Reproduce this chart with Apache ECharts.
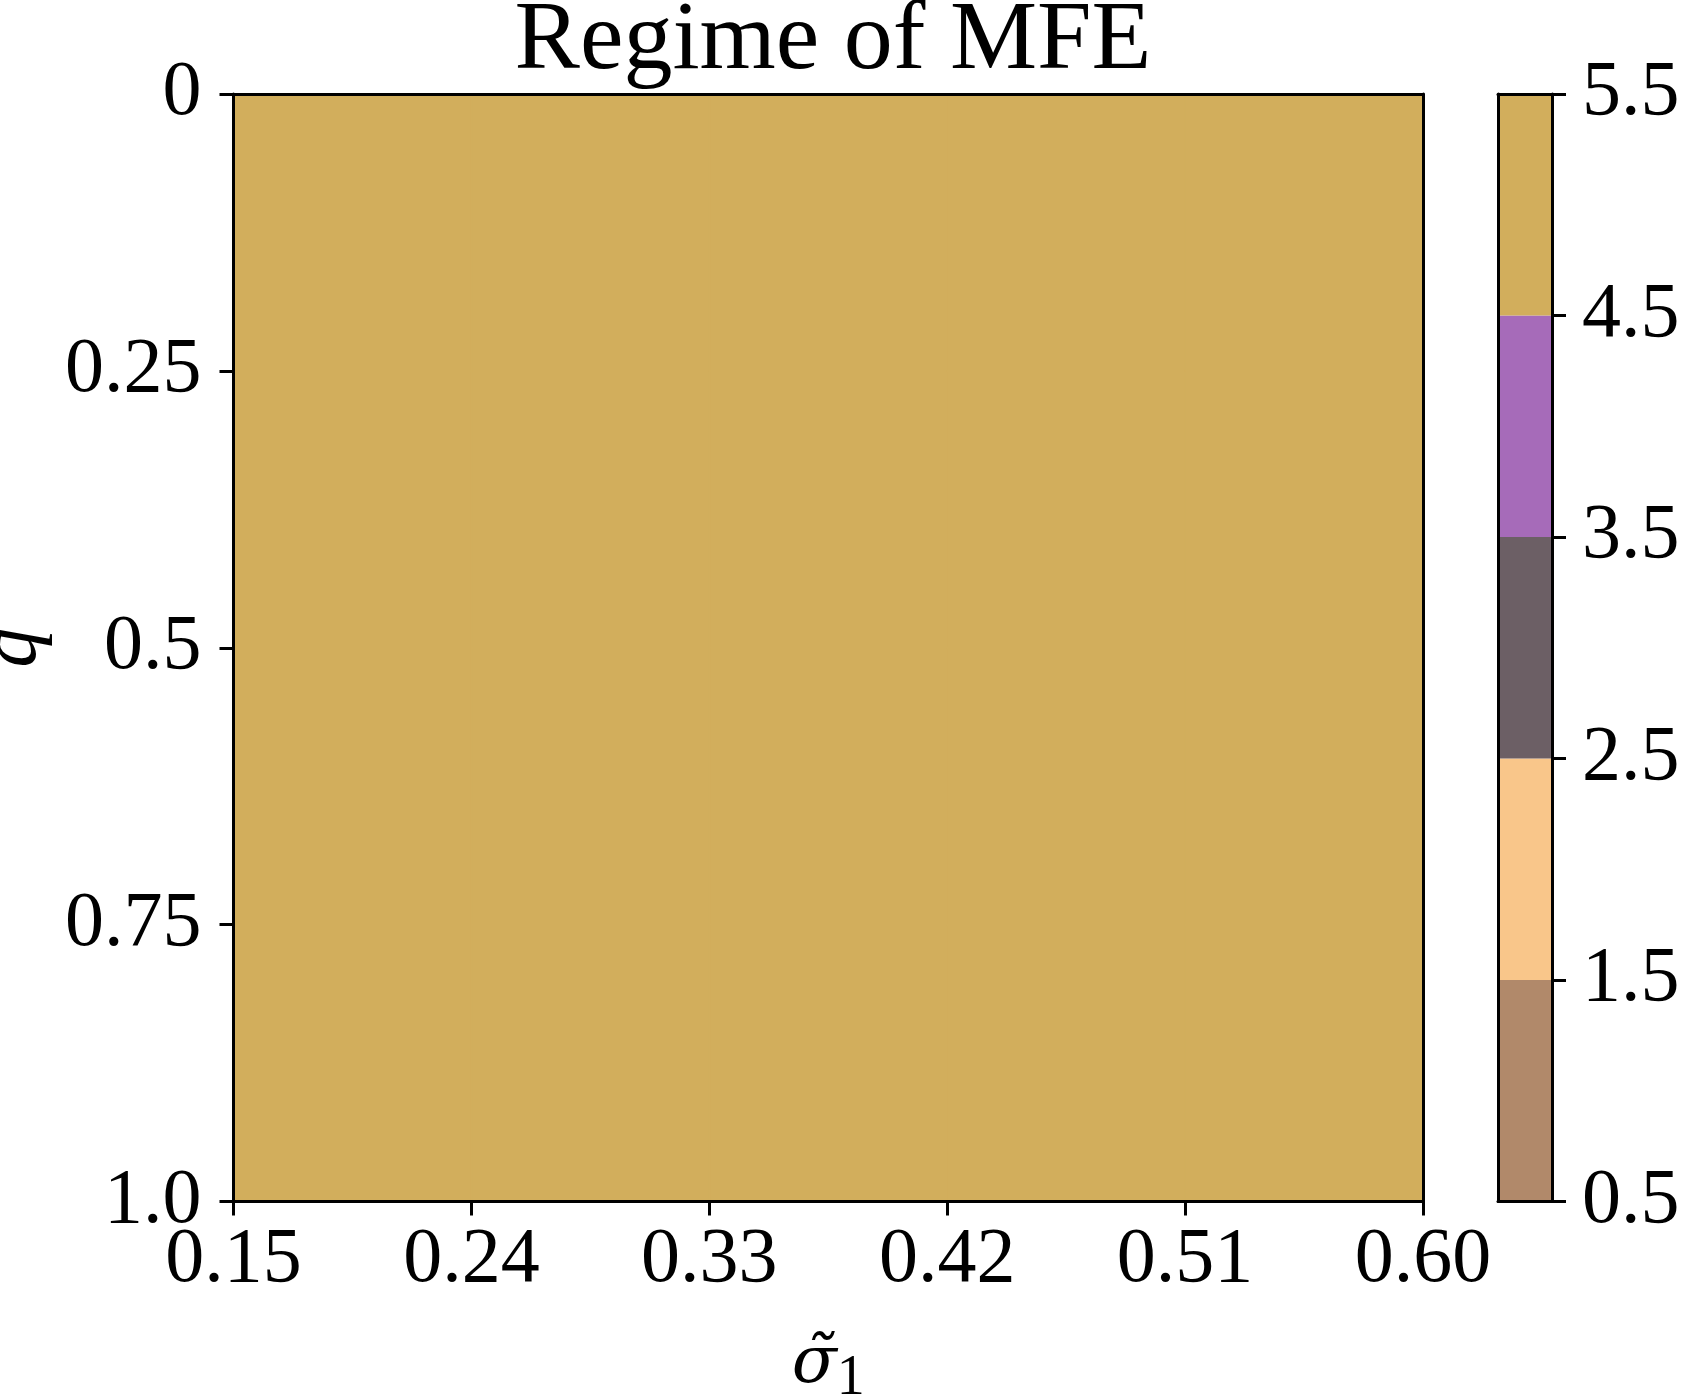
<!DOCTYPE html>
<html lang="en">
<head>
    <meta charset="UTF-8">
    <title>Regime of MFE</title>
    <script src="https://cdn.jsdelivr.net/npm/echarts@6/dist/echarts.min.js"></script>
    <style>
        html, body { margin: 0; padding: 0; background: #fff; }
        #chart { width: 1681px; height: 1396px; }
    </style>
</head>
<body>
<div id="chart"></div>
<script type="text/javascript">
    // grid edges of the regime map
    var sigmaEdges = [0.15, 0.24, 0.33, 0.42, 0.51, 0.60];
    var qEdges = [0, 0.25, 0.5, 0.75, 1.0];
    // regime per cell, rows follow qEdges, columns follow sigmaEdges
    var regime = [
        [5, 5, 5, 5, 5],
        [5, 5, 5, 5, 5],
        [5, 5, 5, 5, 5],
        [5, 5, 5, 5, 5]
    ];
    var xTicks = [0.15, 0.24, 0.33, 0.42, 0.51, 0.60];
    var yTicks = [0, 0.25, 0.5, 0.75, 1.0];
    var yTickLabels = ['0', '0.25', '0.5', '0.75', '1.0'];
    var levels = [1, 2, 3, 4, 5];
    var levelColors = ['#b1896a', '#f9c68a', '#6c5f65', '#a66bb9', '#d2ae5c'];

    var FONT = '"Liberation Serif", "DejaVu Serif", serif';

    var cells = [];
    for (var j = 0; j < regime.length; j++) {
        for (var i = 0; i < regime[j].length; i++) {
            cells.push([sigmaEdges[i], sigmaEdges[i + 1], qEdges[j], qEdges[j + 1], regime[j][i]]);
        }
    }
    var bands = levels.map(function (v) { return [v - 0.5, v + 0.5, v]; });

    function colorOf(v) { return levelColors[levels.indexOf(v)]; }

    var chart = echarts.init(document.getElementById('chart'));

    var frame = { show: true, onZero: false, lineStyle: { color: '#000', width: 3 } };
    var noTick = { show: false };
    var tick = { show: true, length: 14, lineStyle: { width: 3, color: '#000' } };

    var option = {
        animation: false,
        backgroundColor: '#fff',
        title: {
            text: 'Regime of MFE',
            left: 828, textAlign: 'center', top: -12,
            textStyle: { fontFamily: FONT, fontSize: 98, fontWeight: 'normal', color: '#000' }
        },
        grid: [
            { left: 233.5, top: 94, right: 258, bottom: 194.5, containLabel: false, outerBoundsMode: 'none' },
            { left: 1498, top: 94, right: 129, bottom: 194.5, containLabel: false, outerBoundsMode: 'none' }
        ],
        xAxis: [
            {
                gridIndex: 0, type: 'value', min: 0.15, max: 0.60, position: 'bottom', z: 10,
                axisLine: frame,
                axisTick: { show: true, length: 14, customValues: xTicks, lineStyle: { width: 3, color: '#000' } },
                axisLabel: {
                    customValues: xTicks, margin: 20,
                    formatter: function (v) { return v.toFixed(2); },
                    fontFamily: FONT, fontSize: 78, color: '#000'
                },
                splitLine: { show: false },
                name: '{s|σ̃}{sub|1}', nameLocation: 'middle', nameGap: 120,
                nameTextStyle: {
                    rich: {
                        s: { fontFamily: '"DejaVu Serif", serif', fontStyle: 'italic', fontSize: 66, color: '#000' },
                        sub: { fontFamily: FONT, fontSize: 56, color: '#000', verticalAlign: 'bottom', padding: [30, 0, 0, 0] }
                    }
                }
            },
            {
                gridIndex: 0, type: 'value', min: 0.15, max: 0.60, position: 'top', z: 10,
                axisLine: frame, axisTick: noTick, axisLabel: { show: false }, splitLine: { show: false }
            },
            {
                gridIndex: 1, type: 'value', min: 0, max: 1, position: 'bottom', z: 10,
                axisLine: frame, axisTick: noTick, axisLabel: { show: false }, splitLine: { show: false }
            },
            {
                gridIndex: 1, type: 'value', min: 0, max: 1, position: 'top', z: 10,
                axisLine: frame, axisTick: noTick, axisLabel: { show: false }, splitLine: { show: false }
            }
        ],
        yAxis: [
            {
                gridIndex: 0, type: 'value', min: 0, max: 1, interval: 0.25, inverse: true, position: 'left', z: 10,
                axisLine: frame,
                axisTick: tick,
                axisLabel: {
                    margin: 32,
                    formatter: function (v) { return yTickLabels[yTicks.indexOf(v)]; },
                    fontFamily: FONT, fontSize: 78, color: '#000'
                },
                splitLine: { show: false },
                name: 'q', nameLocation: 'middle', nameGap: 178, nameRotate: 90,
                nameTextStyle: { fontFamily: FONT, fontStyle: 'italic', fontSize: 80, color: '#000' }
            },
            {
                gridIndex: 0, type: 'value', min: 0, max: 1, inverse: true, position: 'right', z: 10,
                axisLine: frame, axisTick: noTick, axisLabel: { show: false }, splitLine: { show: false }
            },
            {
                gridIndex: 1, type: 'value', min: 0.5, max: 5.5, interval: 1, position: 'right', z: 10,
                axisLine: frame,
                axisTick: tick,
                axisLabel: {
                    margin: 30,
                    formatter: function (v) { return v.toFixed(1); },
                    fontFamily: FONT, fontSize: 78, color: '#000'
                },
                splitLine: { show: false }
            },
            {
                gridIndex: 1, type: 'value', min: 0.5, max: 5.5, position: 'left', z: 10,
                axisLine: frame, axisTick: noTick, axisLabel: { show: false }, splitLine: { show: false }
            }
        ],
        series: [
            {
                type: 'custom', xAxisIndex: 0, yAxisIndex: 0, z: 1,
                data: cells,
                renderItem: function (params, api) {
                    var p0 = api.coord([api.value(0), api.value(2)]);
                    var p1 = api.coord([api.value(1), api.value(3)]);
                    var c = colorOf(api.value(4));
                    return {
                        type: 'rect',
                        shape: {
                            x: Math.min(p0[0], p1[0]), y: Math.min(p0[1], p1[1]),
                            width: Math.abs(p1[0] - p0[0]), height: Math.abs(p1[1] - p0[1])
                        },
                        style: { fill: c, stroke: c, lineWidth: 1.5 }
                    };
                }
            },
            {
                type: 'custom', xAxisIndex: 2, yAxisIndex: 2, z: 1,
                data: bands,
                renderItem: function (params, api) {
                    var p0 = api.coord([0, api.value(0)]);
                    var p1 = api.coord([1, api.value(1)]);
                    return {
                        type: 'rect',
                        shape: {
                            x: p0[0], y: p1[1],
                            width: p1[0] - p0[0], height: p0[1] - p1[1]
                        },
                        style: { fill: colorOf(api.value(2)) }
                    };
                }
            }
        ]
    };

    chart.setOption(option);
</script>
</body>
</html>
